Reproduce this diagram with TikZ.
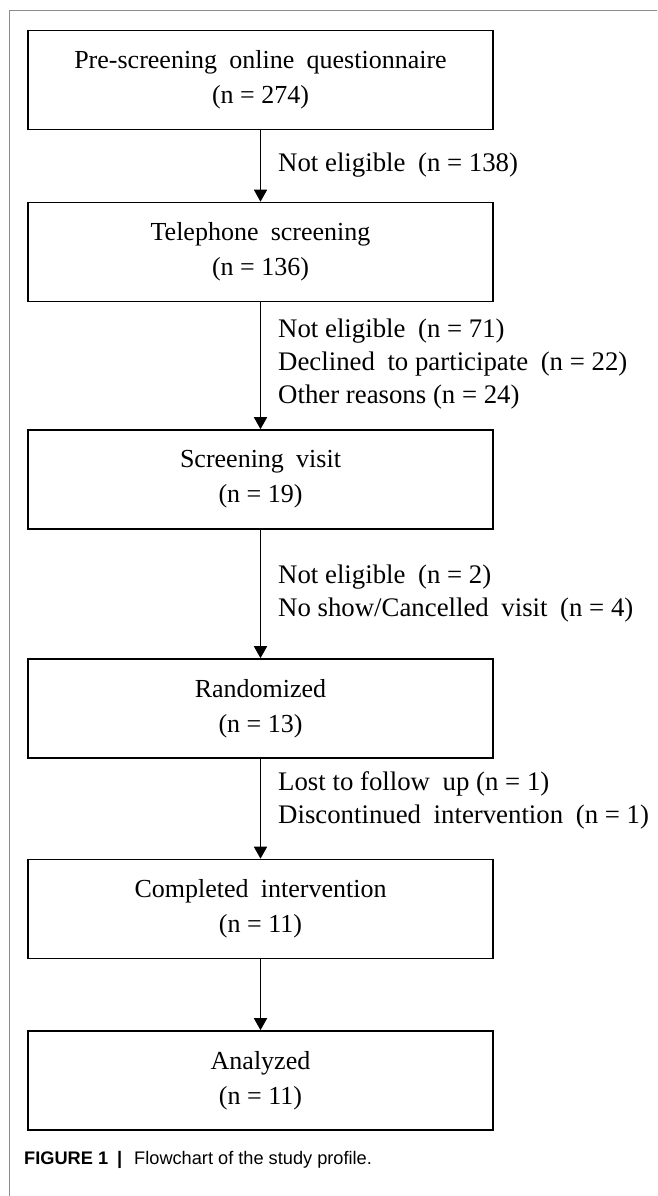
\documentclass[tikz,border=0pt]{standalone}
\usepackage{fontspec}
\setmainfont{Liberation Serif}
\newfontfamily\capfont{Liberation Sans}
\usetikzlibrary{arrows.meta}
\newcommand\gp{\hspace{0.22em}}
\begin{document}
\begin{tikzpicture}[x=1pt,y=-1pt,
  flowbox/.style={draw=black, line width=1.6pt, minimum width=465pt, minimum height=99pt,
    inner sep=0pt, align=center, font=\fontsize{26}{35}\selectfont},
  lbl/.style={anchor=west, align=left, inner sep=0pt, font=\fontsize{26.8}{33}\selectfont},
  flowarrow/.style={line width=1.6pt, -{Triangle[width=13pt,length=12pt]}},
  frame/.style={draw=black!45, line width=1pt}
]
\useasboundingbox (0,0) rectangle (657,1196);
\draw[frame] (9,1196) -- (9,11) -- (657,11);

\node[flowbox] (b1) at (260.5,80) {Pre-screening\gp{} online\gp{} questionnaire\\(n = 274)};
\node[flowbox] (b2) at (260.5,252) {Telephone\gp{} screening\\(n = 136)};
\node[flowbox] (b3) at (260.5,479.5) {Screening\gp{} visit\\(n = 19)};
\node[flowbox] (b4) at (260.5,708.5) {Randomized\\(n = 13)};
\node[flowbox] (b5) at (260.5,909) {Completed\gp{} intervention\\(n = 11)};
\node[flowbox] (b6) at (260.5,1080.5) {Analyzed\\(n = 11)};

\draw[flowarrow] (b1.south) -- (b2.north);
\draw[flowarrow] (b2.south) -- (b3.north);
\draw[flowarrow] (b3.south) -- (b4.north);
\draw[flowarrow] (b4.south) -- (b5.north);
\draw[flowarrow] (b5.south) -- (b6.north);

\node[lbl] (l1) at (278,165) {Not eligible\gp{} (n = 138)};
\node[lbl] (l2) at (278,364.5) {Not eligible\gp{} (n = 71)\\Declined\gp{} to participate\gp{} (n = 22)\\Other reasons (n = 24)};
\node[lbl] (l3) at (278,593.5) {Not eligible\gp{} (n = 2)\\No show/Cancelled\gp{} visit\gp{} (n = 4)};
\node[lbl] (l4) at (278,800) {Lost to follow\gp{} up (n = 1)\\Discontinued\gp{} intervention\gp{} (n = 1)};

\node[anchor=base west, inner sep=0pt, font=\capfont\fontsize{18.2}{20}\selectfont] (cap) at (24,1164)
  {\textbf{FIGURE 1}\hspace{9pt}\textbf{|}\hspace{12pt}Flowchart of the study profile.};
\end{tikzpicture}
\end{document}
